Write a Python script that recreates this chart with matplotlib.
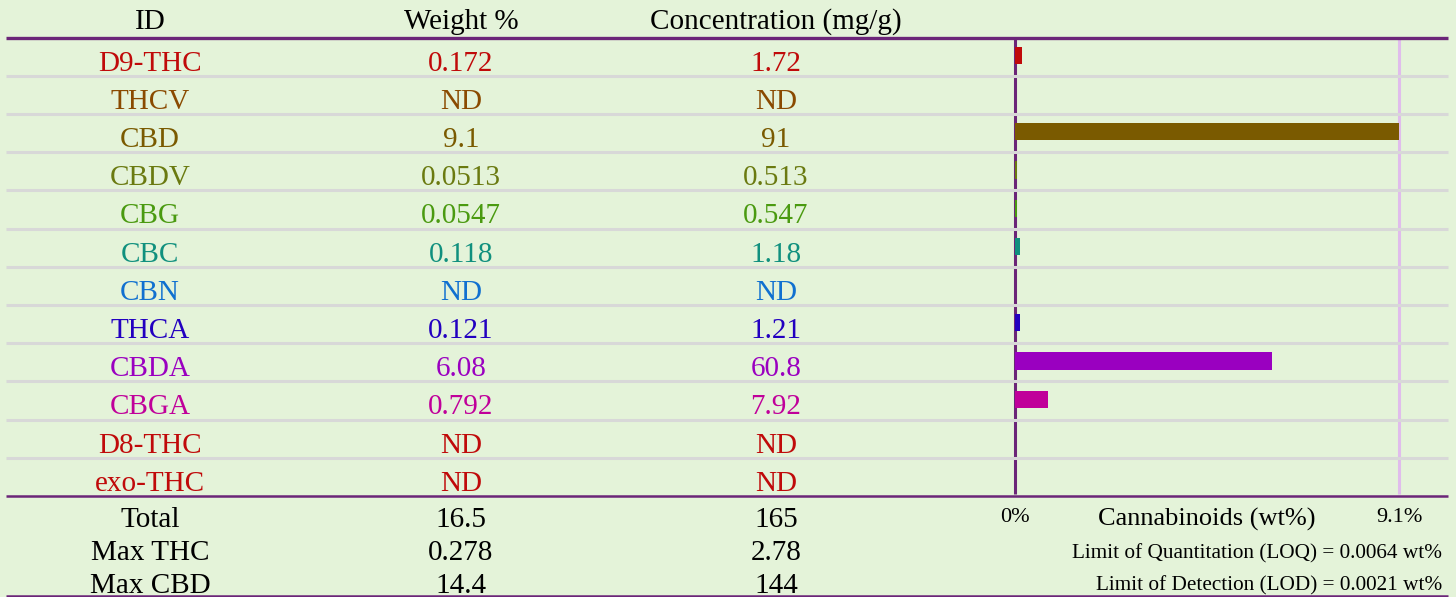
import matplotlib.pyplot as plt

plt.rcParams['font.family'] = ['Liberation Serif', 'DejaVu Serif']

# ---------------- data ----------------
ids = ["D9-THC", "THCV", "CBD", "CBDV", "CBG", "CBC", "CBN", "THCA",
       "CBDA", "CBGA", "D8-THC", "exo-THC"]
weight_txt = ["0.172", "ND", "9.1", "0.0513", "0.0547", "0.118", "ND",
              "0.121", "6.08", "0.792", "ND", "ND"]
conc_txt = ["1.72", "ND", "91", "0.513", "0.547", "1.18", "ND", "1.21",
            "60.8", "7.92", "ND", "ND"]
weight_val = [0.172, 0, 9.1, 0.0513, 0.0547, 0.118, 0, 0.121, 6.08, 0.792, 0, 0]
colors = ["#c00a0a", "#8a4a00", "#7a5a00", "#6a7a10", "#4a9a10", "#10907e",
          "#1070d0", "#2200c0", "#9a00c0", "#c0009a", "#c00a0a", "#c00a0a"]

summary_lbl = ["Total", "Max THC", "Max CBD"]
summary_wt = ["16.5", "0.278", "14.4"]
summary_conc = ["165", "2.78", "144"]
x_max = 9.1

# ---------------- layout (pixels) ----------------
W, H = 1456, 597
top, row_h = 37.5, 38.2
n = len(ids)
bottom = top + n * row_h
x_id, x_wt, x_conc = 150, 461, 776
x0, x1 = 1015, 1399
purple = "#6b2578"
fs = 21

fig = plt.figure(figsize=(W / 100, H / 100), dpi=100)
fig.patch.set_facecolor("#e4f3d9")
ax = fig.add_axes([0, 0, 1, 1])
ax.set_xlim(0, W)
ax.set_ylim(H, 0)
ax.axis("off")

# headers
ax.text(x_id, 22, "ID", ha="center", va="center", fontsize=fs)
ax.text(x_wt, 22, "Weight %", ha="center", va="center", fontsize=fs)
ax.text(x_conc, 22, "Concentration (mg/g)", ha="center", va="center", fontsize=fs)

# rows
for i in range(n):
    yc = top + (i + 0.5) * row_h + 7
    ax.text(x_id, yc, ids[i], ha="center", va="center", fontsize=fs, color=colors[i])
    ax.text(x_wt, yc, weight_txt[i], ha="center", va="center", fontsize=fs, color=colors[i])
    ax.text(x_conc, yc, conc_txt[i], ha="center", va="center", fontsize=fs, color=colors[i])

# bar chart area
bax = fig.add_axes([x0 / W, 1 - bottom / H, (x1 - x0) / W, (bottom - top) / H])
bax.set_xlim(0, x_max)
bax.set_ylim(n, 0)
bax.axis("off")
bax.barh([i + 0.47 for i in range(n)], weight_val, height=0.45, color=colors, zorder=2)

# grid lines
ax.vlines(x1, top, bottom - 2, color="#e0bcec", lw=2.2, zorder=1)
ax.vlines(x0, top, bottom - 2, color=purple, lw=2.2, zorder=3)
for k in range(1, n):
    ax.hlines(top + k * row_h, 6, 1448, color="#d8d8d8", lw=2.2, zorder=4)
ax.hlines(top, 6, 1448, color=purple, lw=2.4, zorder=5)
ax.hlines(bottom, 6, 1448, color=purple, lw=1.8, zorder=5)
ax.hlines(595.5, 6, 1448, color=purple, lw=1.8, zorder=5)

# summary
for j in range(3):
    yc = 520 + j * 33
    ax.text(x_id, yc, summary_lbl[j], ha="center", va="center", fontsize=fs)
    ax.text(x_wt, yc, summary_wt[j], ha="center", va="center", fontsize=fs)
    ax.text(x_conc, yc, summary_conc[j], ha="center", va="center", fontsize=fs)

ax.text(x0, 517, "0%", ha="center", va="center", fontsize=16)
ax.text(1207, 519, "Cannabinoids (wt%)", ha="center", va="center", fontsize=19)
ax.text(x1, 517, "9.1%", ha="center", va="center", fontsize=16)
ax.text(1442, 554, "Limit of Quantitation (LOQ) = 0.0064 wt%", ha="right", va="center", fontsize=15.3)
ax.text(1442, 586, "Limit of Detection (LOD) = 0.0021 wt%", ha="right", va="center", fontsize=15.3)

fig.savefig("out.png", dpi=100, facecolor=fig.get_facecolor())
